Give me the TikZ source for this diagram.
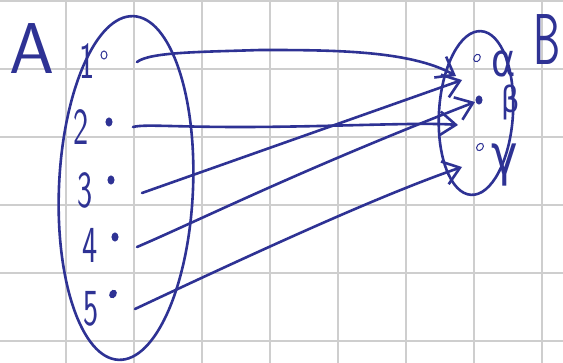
\documentclass[tikz,border=0pt]{standalone}
\usepackage{fontspec}
\newfontfamily\greekfont{DejaVu Sans}
\usetikzlibrary{arrows.meta,shapes.geometric}
\definecolor{ink}{RGB}{46,50,148}
\definecolor{gridgray}{RGB}{206,206,206}
\begin{document}
\begin{tikzpicture}[x=1pt,y=-1pt,
  inkline/.style={draw=ink,line width=2.6pt,line cap=round,line join=round},
  mapto/.style={inkline,-{Straight Barb[length=16pt,width=24pt,line width=2.6pt]}},
  numlab/.style={text=ink,font=\sffamily\fontsize{52}{52}\selectfont,xscale=0.62,inner sep=0pt},
  setlab/.style={text=ink,font=\sffamily\fontsize{72}{72}\selectfont,inner sep=0pt},
  greeklab/.style={text=ink,inner sep=0pt},
  elem/.style={fill=ink,draw=ink,line width=1pt,ellipse,minimum width=6pt,minimum height=8pt,inner sep=0pt}]
\useasboundingbox (0,0) rectangle (563,363);
\clip (0,0) rectangle (563,363);
\fill[white] (0,0) rectangle (563,363);
% grid
\foreach \gx in {66,134,202,270,338,406,474,542}
  \draw[gridgray,line width=2pt] (\gx,0) -- (\gx,363);
\foreach \gy in {1,69,137,205,273,341}
  \draw[gridgray,line width=2pt] (0,\gy) -- (563,\gy);
% sets
\draw[inkline] (126,188) ellipse[x radius=67,y radius=172,rotate=-2.5];
\draw[inkline] (476,113) ellipse[x radius=37,y radius=82,rotate=-3.5];
% labels
\node[setlab] (labA) at (32,49) {A};
\node[setlab,xscale=0.6] (labB) at (547,40) {B};
\node[numlab] (n1) at (87,61) {1};
\node[numlab] (n2) at (81,127) {2};
\node[numlab] (n3) at (85,190) {3};
\node[numlab] (n4) at (90,245) {4};
\node[numlab] (n5) at (91,309) {5};
\node[greeklab,font=\greekfont\fontsize{46}{46}\selectfont,xscale=0.8] (la) at (504,64) {α};
\node[greeklab,font=\greekfont\fontsize{36}{36}\selectfont,xscale=0.8] (lb) at (511,102) {β};
\node[greeklab,font=\greekfont\fontsize{56}{56}\selectfont,xscale=0.8] (lg) at (505,165) {γ};
% elements of A
\node[elem,fill=none] (a1) at (104,55) {};
\node[elem] (a2) at (109,122) {};
\node[elem] (a3) at (111,180) {};
\node[elem] (a4) at (115,237) {};
\node[elem,rotate=-30] (a5) at (113,294) {};
% elements of B
\node[elem,fill=none,rotate=-30] (b1) at (477,58) {};
\node[elem] (b2) at (479,100) {};
\node[elem,fill=none,rotate=-40] (b3) at (480,147) {};
% start and end points of arrows
\coordinate (s1) at (137,62);
\coordinate (s2) at (133,127);
\coordinate (s3) at (142,193);
\coordinate (s4) at (137,247);
\coordinate (s5) at (135,309);
\coordinate (t1) at (456,76);
\coordinate (t2) at (458,125);
\coordinate (t3) at (462,80);
\coordinate (t4) at (475,102);
\coordinate (t5) at (462,167);
% arrows
\draw[mapto] (s1) .. controls (150,52) and (200,52) .. (260,50)
  .. controls (330,50) and (410,50) .. (t1);
\draw[mapto] (s2) .. controls (145,124) and (170,127) .. (240,127)
  .. controls (330,127) and (420,122) .. (t2);
\draw[mapto] (s3) -- (t3);
\draw[mapto] (s4) .. controls (200,220) and (300,170) .. (t4);
\draw[mapto] (s5) .. controls (250,255) and (380,195) .. (t5);
\end{tikzpicture}
\end{document}
